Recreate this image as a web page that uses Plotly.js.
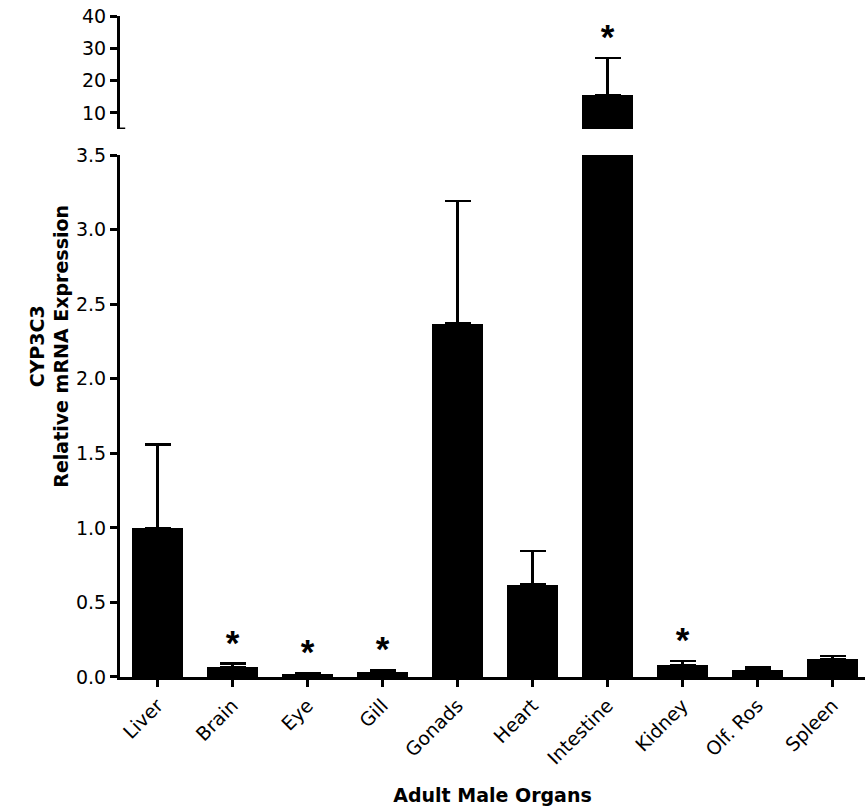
<!DOCTYPE html>
<html>
<head>
<meta charset="utf-8">
<script src="https://cdn.plot.ly/plotly-3.0.1.min.js"></script>
<style>html,body{margin:0;padding:0;background:#fff;}#chart{width:865px;height:808px;}</style>
</head>
<body>
<div id="chart"></div>
<script>
var organs = ["Liver", "Brain", "Eye", "Gill", "Gonads", "Heart", "Intestine", "Kidney", "Olf. Ros", "Spleen"];
var expression = [1.0, 0.065, 0.02, 0.035, 2.37, 0.62, 15.5, 0.08, 0.045, 0.12];
var sem = [0.56, 0.025, 0.006, 0.012, 0.82, 0.225, 11.5, 0.027, 0.02, 0.02];
var significance = ["", "*", "*", "*", "", "", "*", "*", "", ""];
var lowerTicks = [0, 0.5, 1.0, 1.5, 2.0, 2.5, 3.0, 3.5];
var upperTicks = [10, 20, 30, 40];
var lowerRange = [0, 3.5];
var upperRange = [5, 40];

var errStyle = {type: "data", array: sem, symmetric: false, arrayminus: sem.map(function(){return 0;}), color: "#000", thickness: 2.5, width: 13, visible: true};

var lowerTop = expression.map(function(v, i){ return v + sem[i] <= lowerRange[1] ? v + sem[i] : null; });
var lowerStar = significance.map(function(s, i){ return expression[i] + sem[i] <= lowerRange[1] ? s : ""; });
var upperTop = expression.map(function(v, i){ return v + sem[i] > upperRange[0] ? v + sem[i] : null; });
var upperStar = significance.map(function(s, i){ return expression[i] + sem[i] > upperRange[0] ? s : ""; });

var starFont = {family: "Liberation Sans, Arial, sans-serif", size: 35, color: "#000", weight: "bold"};
var traces = [
  {type: "bar", x: organs, y: expression, xaxis: "x", yaxis: "y", width: 0.69,
   marker: {color: "#000", line: {width: 0}}, error_y: errStyle, hoverinfo: "x+y"},
  {type: "bar", x: organs, y: expression, xaxis: "x", yaxis: "y2", width: 0.69,
   marker: {color: "#000", line: {width: 0}}, error_y: errStyle, hoverinfo: "x+y"},
  {type: "scatter", mode: "text", x: organs, y: lowerTop, text: lowerStar, xaxis: "x", yaxis: "y",
   textposition: "top center", textfont: starFont, hoverinfo: "skip"},
  {type: "scatter", mode: "text", x: organs, y: upperTop, text: upperStar, xaxis: "x", yaxis: "y2",
   textposition: "top center", textfont: starFont, hoverinfo: "skip", cliponaxis: false}
];

var fontFam = "DejaVu Sans, Verdana, sans-serif";
var tickFont = {family: fontFam, size: 19, color: "#000"};
var layout = {
  width: 865, height: 808,
  margin: {l: 120, r: 0, t: 16, b: 131},
  paper_bgcolor: "#fff", plot_bgcolor: "#fff",
  showlegend: false,
  bargap: 0,
  font: {family: fontFam, size: 19, color: "#000"},
  xaxis: {
    type: "category", range: [-0.5, 9.433], anchor: "y",
    showline: true, linecolor: "#000", linewidth: 3,
    ticks: "outside", ticklen: 7, tickwidth: 3, tickcolor: "#000",
    tickangle: -45, tickfont: tickFont,
    showgrid: false, zeroline: false,
    title: {text: "<b>Adult Male Organs</b>", font: {family: fontFam, size: 19, color: "#000"}, standoff: 22}
  },
  yaxis: {
    domain: [0, 0.7897], range: lowerRange, anchor: "x",
    tickmode: "array", tickvals: lowerTicks, ticktext: lowerTicks.map(function(v){return v.toFixed(1);}),
    showline: true, linecolor: "#000", linewidth: 3,
    ticks: "outside", ticklen: 7, tickwidth: 3, tickcolor: "#000",
    tickfont: tickFont,
    showgrid: false, zeroline: false
  },
  yaxis2: {
    domain: [0.829, 1], range: upperRange, anchor: "x",
    tickmode: "array", tickvals: upperTicks, ticktext: upperTicks.map(String),
    showline: true, linecolor: "#000", linewidth: 3,
    ticks: "outside", ticklen: 7, tickwidth: 3, tickcolor: "#000",
    tickfont: tickFont,
    showgrid: false, zeroline: false
  },
  shapes: [
    {type: "line", xref: "paper", yref: "y2", x0: -0.002, x1: 0.007, y0: upperRange[0], y1: upperRange[0], line: {color: "#000", width: 3}}
  ],
  annotations: [
    {xref: "paper", yref: "paper", x: -0.095, y: 0.5, xanchor: "center", yanchor: "middle",
     textangle: -90, showarrow: false, align: "center",
     text: "<b>CYP3C3<br>Relative mRNA Expression</b>", font: {family: fontFam, size: 19, color: "#000"}}
  ]
};

Plotly.newPlot("chart", traces, layout, {staticPlot: true, displayModeBar: false});
</script>
</body>
</html>
